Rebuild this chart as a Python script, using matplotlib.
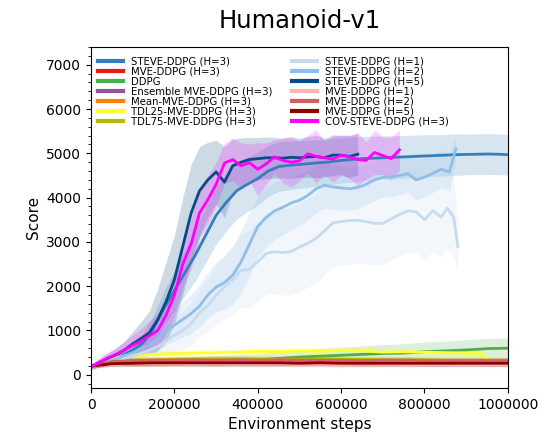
import numpy as np
import matplotlib
matplotlib.use("Agg")
import matplotlib.pyplot as plt
from matplotlib.ticker import AutoMinorLocator

# step grids
x25 = np.arange(0, 1000001, 25000)
x20_640 = np.arange(0, 640001, 20000)
x20_740 = np.arange(0, 740001, 20000)
x_h2 = np.append(np.arange(0, 860001, 20000), 875000)
x_h1 = np.append(np.arange(0, 840001, 20000), [855000, 870000, 880000])
x50 = np.arange(0, 1000001, 50000)
x_tdl25 = np.append(np.arange(0, 900001, 50000), [930000, 950000])

# STEVE-DDPG (H=3)
steve3 = [180, 260, 340, 430, 560, 720, 1050, 1500, 1900, 2300, 2700, 3150, 3600, 3900,
          4160, 4300, 4430, 4600, 4700, 4730, 4750, 4770, 4790, 4810, 4840, 4860, 4880,
          4890, 4900, 4910, 4920, 4930, 4940, 4950, 4960, 4970, 4975, 4980, 4985, 4980, 4970]
steve3_sd = [60, 80, 100, 130, 170, 220, 300, 380, 450, 520, 580, 620, 650, 650, 640, 620,
             600, 580, 560, 550, 540, 530, 520, 520, 510, 510, 500, 500, 490, 490, 480, 480,
             480, 470, 470, 470, 460, 460, 460, 460, 460]

# STEVE-DDPG (H=5)
steve5 = [180, 280, 370, 450, 560, 700, 820, 950, 1250, 1650, 2150, 2900, 3650, 4150, 4400,
          4580, 4350, 4720, 4800, 4860, 4880, 4900, 4900, 4890, 4910, 4900, 4920, 4930,
          4900, 4960, 4960, 4930, 4980]
steve5_sd = [60, 90, 120, 150, 200, 280, 380, 500, 700, 900, 1000, 1100, 1100, 1000, 850,
             720, 800, 600, 550, 500, 480, 470, 460, 450, 470, 440, 460, 480, 440, 460, 440,
             480, 460]

# COV-STEVE-DDPG (H=3)
cov = [170, 280, 380, 460, 560, 670, 760, 880, 1000, 1350, 1800, 2500, 2950, 3650, 3950,
       4300, 4780, 4860, 4720, 4790, 4640, 4760, 4920, 4840, 4800, 4830, 4990, 4930, 4900,
       4870, 4960, 4920, 4860, 4840, 5020, 4950, 4880, 5080]
cov_sd = [60, 90, 120, 150, 190, 230, 280, 330, 380, 430, 480, 520, 560, 560, 540, 500, 450,
          480, 520, 420, 600, 470, 380, 500, 560, 450, 420, 600, 380, 520, 460, 480, 600,
          420, 500, 430, 480, 450]

# STEVE-DDPG (H=2)
steve2 = [170, 240, 300, 360, 430, 500, 580, 680, 800, 1000, 1120, 1250, 1380, 1550, 1800,
          1980, 2080, 2250, 2550, 2950, 3350, 3550, 3700, 3780, 3880, 3940, 4050, 4200,
          4280, 4240, 4220, 4200, 4230, 4300, 4400, 4460, 4470, 4500, 4540, 4400, 4460,
          4550, 4640, 4580, 5100]
steve2_sd = [50, 70, 90, 110, 140, 170, 200, 240, 280, 320, 360, 400, 440, 480, 520, 560,
             600, 650, 700, 720, 700, 680, 650, 620, 600, 580, 560, 540, 520, 500, 500, 480,
             480, 470, 460, 450, 450, 440, 430, 450, 440, 430, 420, 420, 250]

# STEVE-DDPG (H=1)
steve1 = [160, 220, 270, 320, 370, 430, 490, 560, 640, 760, 900, 1000, 1150, 1400, 1560,
          1800, 1980, 2150, 2360, 2380, 2550, 2740, 2780, 2760, 2780, 2880, 2970, 3080, 3250,
          3430, 3460, 3480, 3490, 3460, 3420, 3420, 3520, 3620, 3700, 3680, 3500, 3710,
          3560, 3760, 3560, 2890]
steve1_sd = [50, 70, 90, 110, 140, 170, 200, 240, 280, 330, 380, 430, 480, 540, 600, 660,
             720, 780, 840, 880, 900, 920, 940, 960, 980, 1000, 1000, 1000, 1000, 1000, 980,
             980, 960, 960, 950, 950, 940, 940, 930, 930, 920, 920, 900, 900, 900, 600]

# low-scoring baselines (every 50k steps)
ddpg = [200, 260, 280, 290, 300, 310, 320, 330, 340, 370, 400, 420, 440, 460, 480, 490, 520,
        540, 560, 590, 600]
ddpg_sd = [40, 60, 80, 90, 100, 110, 120, 130, 140, 150, 160, 170, 180, 190, 200, 210, 220,
           220, 230, 230, 230]
tdl25 = [200, 380, 430, 460, 480, 490, 500, 510, 530, 520, 540, 530, 550, 540, 510, 520, 510,
         500, 490, 490, 390]
tdl75 = [200, 300, 330, 340, 350, 350, 360, 360, 360, 350, 350, 360, 350, 350, 340, 340, 340,
         330, 330, 330, 330]
mean_mve = [200, 280, 300, 310, 310, 300, 310, 300, 300, 310, 300, 300, 300, 290, 300, 290,
            290, 300, 290, 290, 290]
mve3 = [200, 280, 290, 290, 300, 300, 290, 300, 290, 290, 300, 290, 290, 280, 290, 280, 290,
        290, 280, 280, 280]
ensemble = [190, 260, 280, 270, 280, 280, 270, 280, 270, 270, 280, 270, 270, 270, 260, 270,
            260, 260, 270, 260, 260]
mve1 = [190, 230, 250, 250, 250, 240, 250, 240, 240, 250, 240, 240, 230, 240, 230, 230, 230,
        230, 230, 230, 230]
mve2 = [200, 300, 320, 330, 330, 340, 330, 340, 330, 340, 330, 330, 330, 320, 330, 330, 320,
        320, 320, 320, 320]
mve5 = [190, 250, 260, 270, 270, 270, 270, 270, 270, 270, 260, 270, 260, 260, 260, 260, 260,
        260, 260, 260, 260]
low_sd = [30, 60, 70, 70, 70, 70, 70, 70, 70, 70, 70, 70, 70, 70, 70, 70, 70, 70, 70, 70, 70]
tdl25_sd = [30, 60, 70, 80, 80, 80, 80, 80, 80, 80, 80, 80, 80, 80, 80, 80, 80, 80, 80, 80, 60]

series = [
    ("STEVE-DDPG (H=3)", x25, steve3, steve3_sd, "#377eb8"),
    ("MVE-DDPG (H=3)", x50, mve3, low_sd, "#e41a1c"),
    ("DDPG", x50, ddpg, ddpg_sd, "#4daf4a"),
    ("Ensemble MVE-DDPG (H=3)", x50, ensemble, low_sd, "#984ea3"),
    ("Mean-MVE-DDPG (H=3)", x50, mean_mve, low_sd, "#ff7f00"),
    ("TDL25-MVE-DDPG (H=3)", x_tdl25, tdl25, tdl25_sd, "#ffff33"),
    ("TDL75-MVE-DDPG (H=3)", x50, tdl75, low_sd, "#b8b800"),
    ("STEVE-DDPG (H=1)", x_h1, steve1, steve1_sd, "#c6dbef"),
    ("STEVE-DDPG (H=2)", x_h2, steve2, steve2_sd, "#8fbfe8"),
    ("STEVE-DDPG (H=5)", x20_640, steve5, steve5_sd, "#084a85"),
    ("MVE-DDPG (H=1)", x50, mve1, low_sd, "#ffb3b3"),
    ("MVE-DDPG (H=2)", x50, mve2, low_sd, "#d45f5f"),
    ("MVE-DDPG (H=5)", x50, mve5, low_sd, "#8b0000"),
    ("COV-STEVE-DDPG (H=3)", x20_740, cov, cov_sd, "#ff00ff"),
]

fig = plt.figure(figsize=(5.52, 4.44), dpi=100)
ax = fig.add_axes([0.165, 0.126, 0.755, 0.768])

for label, x, y, sd, c in series:
    y = np.array(y, dtype=float)
    sd = np.array(sd, dtype=float)
    ax.fill_between(x, y - sd, y + sd, color=c, alpha=0.2, linewidth=0)
    ax.plot(x, y, color=c, lw=2, label=label)

ax.set_xlim(0, 1000000)
ax.set_ylim(-300, 7400)
ax.yaxis.set_minor_locator(AutoMinorLocator(5))
ax.ticklabel_format(axis="x", style="plain")
ax.tick_params(labelsize=10)
ax.set_xlabel("Environment steps", fontsize=11)
ax.set_ylabel("Score", fontsize=11)
ax.set_title("Humanoid-v1", fontsize=17.5, pad=14)

leg = ax.legend(loc="upper left", bbox_to_anchor=(0.0, 0.992), ncol=2, fontsize=7.3,
                frameon=False, labelspacing=0.0, handlelength=2.4, handletextpad=0.8,
                columnspacing=2.0, borderaxespad=0.3)
for line in leg.get_lines():
    line.set_linewidth(3)

fig.savefig("out.png", dpi=100)
